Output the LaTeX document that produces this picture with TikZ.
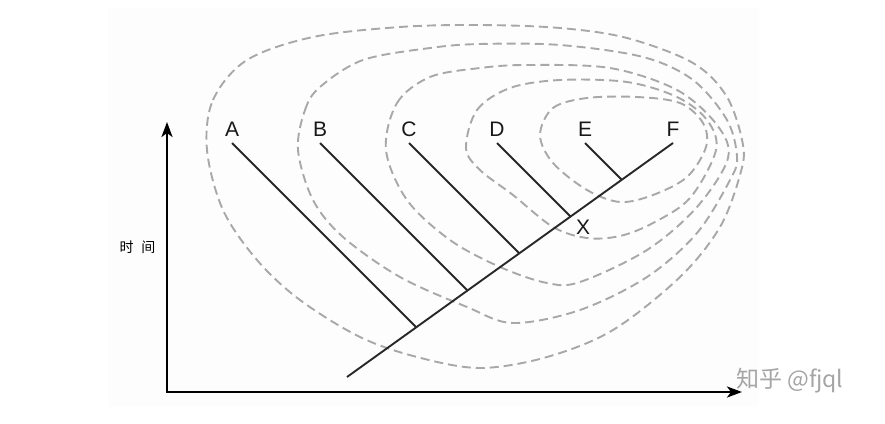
\documentclass[tikz,border=0pt]{standalone}
\usepackage{fontspec}
\setmainfont{Liberation Sans}
\newfontfamily\cjk{Noto Sans CJK SC}
\usetikzlibrary{arrows.meta}
\definecolor{treegray}{RGB}{40,40,40}
\definecolor{dashgray}{RGB}{168,168,168}
\definecolor{labelgray}{RGB}{25,25,25}
\definecolor{panelfill}{RGB}{253,253,253}
\definecolor{markgray}{RGB}{165,165,165}
\begin{document}
\begin{tikzpicture}[x=1pt,y=-1pt,
  branch/.style={draw=treegray,line width=1.9pt},
  clade/.style={draw=dashgray,line width=1.9pt,dash pattern=on 9pt off 5pt},
  axisline/.style={draw=black,line width=2.5pt,-{Stealth[length=15pt,width=11pt,inset=4pt]}},
  lbl/.style={font=\fontsize{21}{21}\selectfont,text=labelgray,anchor=base,inner sep=0pt}]
\useasboundingbox (0,0) rectangle (885,423);
\fill[panelfill] (108,8) rectangle (759,407);

% clade loops (outermost first)
\draw[clade] plot[smooth cycle, tension=0.55] coordinates {
  (207,150) (213,100) (247,60) (313,37) (400,27) (480,25) (560,28) (627,38)
  (693,63) (727,97) (743,145) (740,175) (720,227) (680,277) (613,330)
  (547,357) (480,368) (417,357) (360,337) (300,300) (257,260) (223,210)};
\draw[clade] plot[smooth cycle, tension=0.55] coordinates {
  (298,150) (305,110) (320,87) (363,60) (430,48) (480,44) (560,45) (643,57)
  (693,80) (727,120) (737,157) (730,180) (697,233) (647,277) (580,310)
  (513,323) (467,307) (400,277) (343,237) (313,200)};
\draw[clade] plot[smooth cycle, tension=0.55] coordinates {
  (386,150) (397,103) (430,77) (480,68) (527,65) (610,68) (677,90)
  (717,125) (728,158) (697,207) (647,250) (580,282) (547,283) (500,267)
  (450,240) (407,200)};
\draw[clade] plot[smooth cycle, tension=0.55] coordinates {
  (466,148) (477,110) (510,88) (560,80) (627,82) (677,97) (707,120)
  (716,150) (690,198) (653,223) (620,236) (587,238) (553,227) (513,195)
  (480,170)};
\draw[clade] plot[smooth cycle, tension=0.55] coordinates {
  (540,135) (553,108) (587,98) (637,97) (680,103) (703,123) (706,147)
  (687,177) (653,195) (620,202) (587,190) (553,163)};

% axes
\coordinate (O) at (167,392);
\coordinate (ytop) at (167,122);
\coordinate (xend) at (742,392);
\draw[axisline] (O) -- (ytop);
\draw[axisline] ([xshift=-1.25pt]O) -- (xend);

% tree
\coordinate (root) at (347,377);
\coordinate (tA) at (232,143);
\coordinate (tB) at (320,143);
\coordinate (tC) at (409,143);
\coordinate (tD) at (497,143);
\coordinate (tE) at (585,143);
\coordinate (tF) at (673,143);
\coordinate (jA) at (416.3,327.3);
\coordinate (jB) at (467.5,290.5);
\coordinate (jC) at (519.3,253.3);
\coordinate (jD) at (570.6,216.6);
\coordinate (jE) at (621.8,179.8);
\draw[branch] (root) -- (tF);
\draw[branch] (tA) -- (jA);
\draw[branch] (tB) -- (jB);
\draw[branch] (tC) -- (jC);
\draw[branch] (tD) -- (jD);
\draw[branch] (tE) -- (jE);

% labels
\node[lbl] (A) at (232,136) {A};
\node[lbl] (B) at (320,136) {B};
\node[lbl] (C) at (409,136) {C};
\node[lbl] (D) at (497,136) {D};
\node[lbl] (E) at (585,136) {E};
\node[lbl] (F) at (673,136) {F};
\node[lbl] (X) at (583,234) {X};
\node[font=\cjk\fontsize{14}{14}\selectfont,inner sep=0pt] (time) at (137.5,247) {时\hspace{8pt}间};
\node[font=\cjk\fontsize{23}{23}\selectfont,text=markgray,anchor=west,inner sep=0pt] (mark) at (736,381) {知乎 @fjql};
\end{tikzpicture}
\end{document}
